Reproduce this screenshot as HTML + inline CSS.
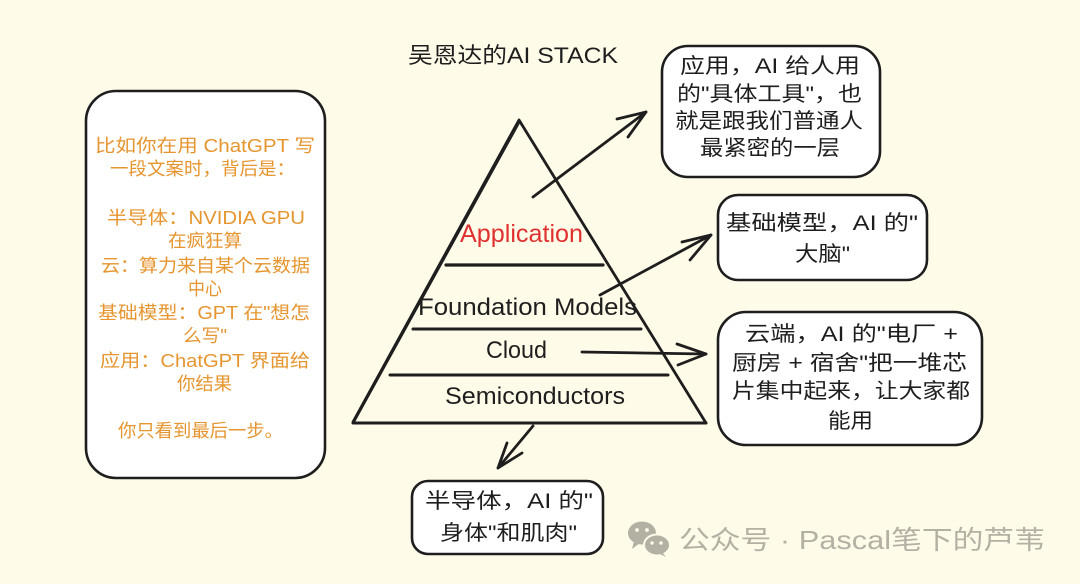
<!DOCTYPE html>
<html><head><meta charset="utf-8"><style>
html,body{margin:0;padding:0;background:#fffbe9;}
svg{display:block;}
text{font-family:"Liberation Sans","Noto Sans CJK SC",sans-serif;}
</style></head><body>
<svg width="1080" height="584" viewBox="0 0 1080 584" xmlns="http://www.w3.org/2000/svg">
<rect x="0" y="0" width="1080" height="584" fill="#fffbe9"/>

<!-- Title -->
<text x="408" y="63" font-size="22" fill="#1e1e1e" textLength="210" lengthAdjust="spacingAndGlyphs">吴恩达的AI STACK</text>

<!-- Left box -->
<rect x="86" y="91" width="239" height="387" rx="30" ry="30" fill="#ffffff" stroke="#1e1e1e" stroke-width="2.6"/>
<g font-size="18" fill="#e6952f" lengthAdjust="spacingAndGlyphs">
<text x="95" y="152" textLength="220" lengthAdjust="spacingAndGlyphs">比如你在用 ChatGPT 写</text>
<text x="110" y="175" textLength="185" lengthAdjust="spacingAndGlyphs">一段文案时，背后是：</text>
<text x="107" y="224" textLength="198" lengthAdjust="spacingAndGlyphs">半导体：NVIDIA GPU</text>
<text x="168" y="247" textLength="74" lengthAdjust="spacingAndGlyphs">在疯狂算</text>
<text x="101" y="272" textLength="209" lengthAdjust="spacingAndGlyphs">云：算力来自某个云数据</text>
<text x="188" y="295" textLength="34" lengthAdjust="spacingAndGlyphs">中心</text>
<text x="98" y="319" textLength="212" lengthAdjust="spacingAndGlyphs">基础模型：GPT 在"想怎</text>
<text x="183" y="342" textLength="44" lengthAdjust="spacingAndGlyphs">么写"</text>
<text x="100" y="367" textLength="210" lengthAdjust="spacingAndGlyphs">应用：ChatGPT 界面给</text>
<text x="177" y="390" textLength="55" lengthAdjust="spacingAndGlyphs">你结果</text>
<text x="118" y="437" textLength="165" lengthAdjust="spacingAndGlyphs">你只看到最后一步。</text>
</g>

<!-- Pyramid -->
<g stroke="#1e1e1e" stroke-linecap="round" stroke-linejoin="round" fill="none">
<path d="M353 422 L519 120 L706 423" stroke-width="2.8"/>
<path d="M355 421 L520 122" stroke-width="1.2"/>
<path d="M353 423 L706 423" stroke-width="3"/>
<path d="M446 265 L603 265" stroke-width="3.2"/>
<path d="M413 329 L641 329" stroke-width="3"/>
<path d="M390 375 L668 375" stroke-width="3"/>
</g>
<text x="460" y="242" font-size="25" fill="#e03131" textLength="123" lengthAdjust="spacingAndGlyphs">Application</text>
<text x="418" y="315" font-size="24" fill="#1e1e1e" textLength="219" lengthAdjust="spacingAndGlyphs">Foundation Models</text>
<text x="486" y="358" font-size="24" fill="#1e1e1e" textLength="61" lengthAdjust="spacingAndGlyphs">Cloud</text>
<text x="445" y="404" font-size="24" fill="#1e1e1e" textLength="180" lengthAdjust="spacingAndGlyphs">Semiconductors</text>

<!-- Arrows -->
<g stroke="#1e1e1e" stroke-width="2.8" stroke-linecap="round" stroke-linejoin="round" fill="none">
<path d="M533 197 L646 112"/>
<path d="M617 119 L646 112 L628 137"/>
<path d="M600 295 L711 235"/>
<path d="M682 242 L711 235 L690 260"/>
<path d="M582 352 L706 354"/>
<path d="M677 344 L706 354 L678 365"/>
<path d="M533 426 L498 468"/>
<path d="M507 443 L498 468 L522 453"/>
</g>

<!-- Box A -->
<rect x="662" y="46" width="218" height="131" rx="26" ry="26" fill="#ffffff" stroke="#1e1e1e" stroke-width="2.6"/>
<g font-size="21" fill="#1e1e1e">
<text x="680" y="73" textLength="180" lengthAdjust="spacingAndGlyphs">应用，AI 给人用</text>
<text x="677" y="101" textLength="185" lengthAdjust="spacingAndGlyphs">的"具体工具"，也</text>
<text x="675" y="128" textLength="188" lengthAdjust="spacingAndGlyphs">就是跟我们普通人</text>
<text x="700" y="155" textLength="140" lengthAdjust="spacingAndGlyphs">最紧密的一层</text>
</g>

<!-- Box B -->
<rect x="718" y="195" width="209" height="85" rx="20" ry="20" fill="#ffffff" stroke="#1e1e1e" stroke-width="2.6"/>
<g font-size="21" fill="#1e1e1e">
<text x="726" y="230" textLength="192" lengthAdjust="spacingAndGlyphs">基础模型，AI 的"</text>
<text x="795" y="261" textLength="55" lengthAdjust="spacingAndGlyphs">大脑"</text>
</g>

<!-- Box C -->
<rect x="718" y="312" width="264" height="133" rx="28" ry="28" fill="#ffffff" stroke="#1e1e1e" stroke-width="2.6"/>
<g font-size="21" fill="#1e1e1e">
<text x="745" y="341" textLength="213" lengthAdjust="spacingAndGlyphs">云端，AI 的"电厂 +</text>
<text x="732" y="370" textLength="235" lengthAdjust="spacingAndGlyphs">厨房 + 宿舍"把一堆芯</text>
<text x="732" y="398" textLength="238" lengthAdjust="spacingAndGlyphs">片集中起来，让大家都</text>
<text x="828" y="428" textLength="45" lengthAdjust="spacingAndGlyphs">能用</text>
</g>

<!-- Box D -->
<rect x="412" y="481" width="191" height="73" rx="16" ry="16" fill="#ffffff" stroke="#1e1e1e" stroke-width="2.6"/>
<g font-size="21" fill="#1e1e1e">
<text x="425" y="508" textLength="168" lengthAdjust="spacingAndGlyphs">半导体，AI 的"</text>
<text x="440" y="540" textLength="137" lengthAdjust="spacingAndGlyphs">身体"和肌肉"</text>
</g>

<!-- Watermark -->
<g fill="#b3b0a4">
<ellipse cx="642" cy="533" rx="14" ry="11.5"/>
<path d="M634 541 L632 549 L640 543 Z"/>
<ellipse cx="657" cy="545" rx="13" ry="10.5" stroke="#fffbe9" stroke-width="2"/>
<path d="M662 552 L666 557 L660 554 Z"/>
</g>
<g fill="#fffbe9">
<circle cx="637" cy="530" r="1.9"/>
<circle cx="647" cy="530" r="1.9"/>
<circle cx="652" cy="543" r="1.7"/>
<circle cx="661" cy="543" r="1.7"/>
</g>
<text x="679" y="549" font-size="26" fill="#b3b0a4" textLength="366" lengthAdjust="spacingAndGlyphs">公众号 · Pascal笔下的芦苇</text>
</svg>
</body></html>
